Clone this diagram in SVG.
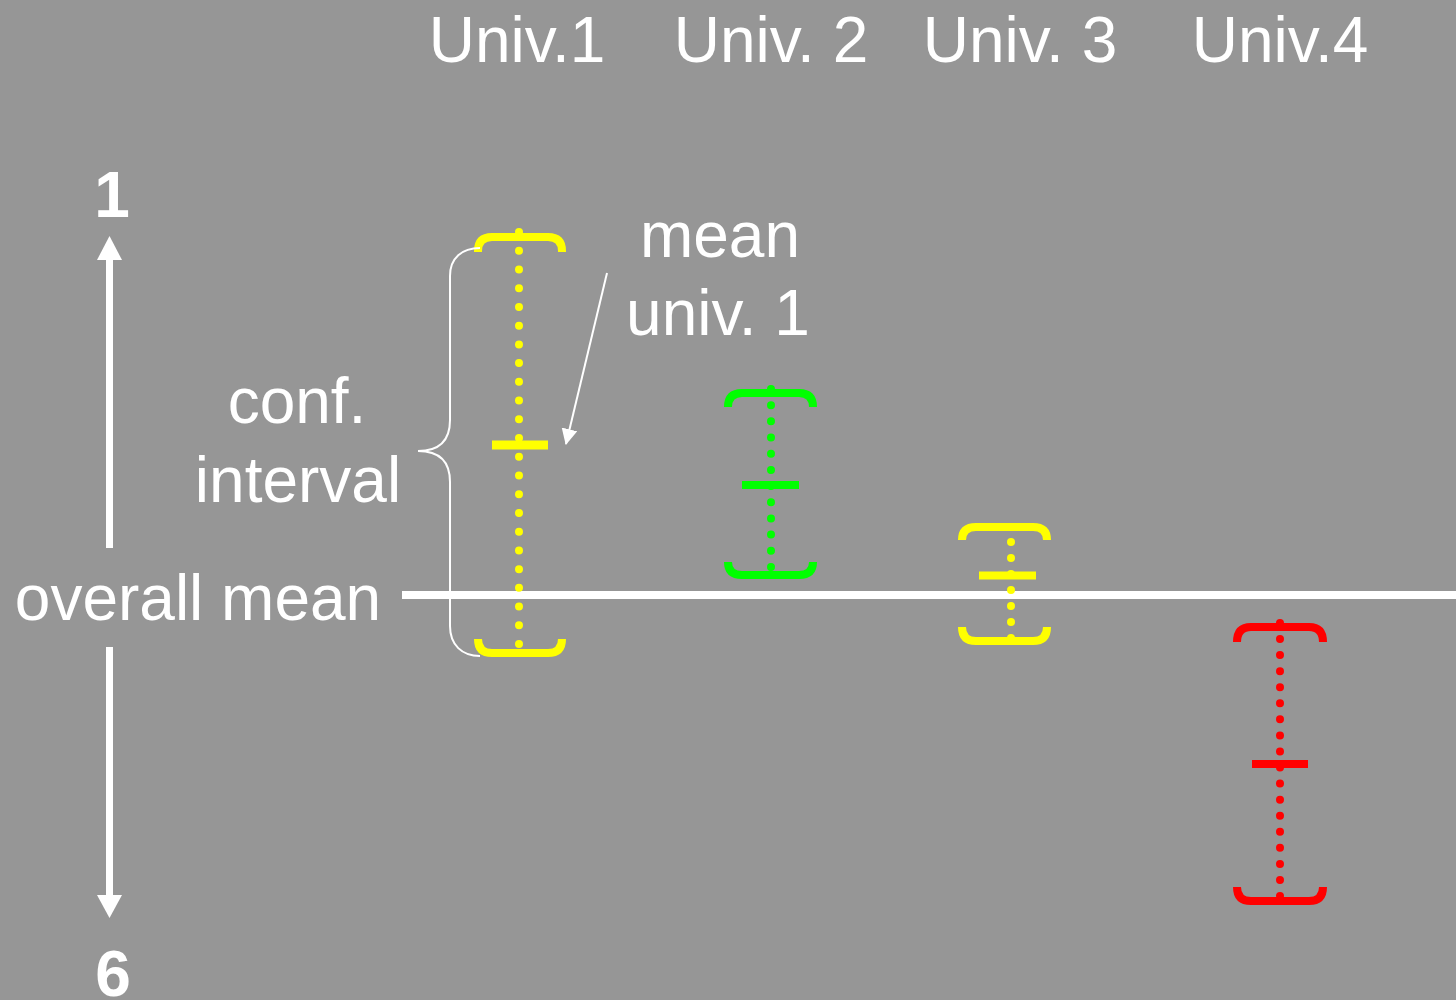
<svg xmlns="http://www.w3.org/2000/svg" width="1456" height="1000" viewBox="0 0 1456 1000">
<defs>
<style>
text{font-family:"Liberation Sans",Arial,sans-serif;fill:#fff;font-size:64px;text-anchor:middle}
.bold{font-weight:bold}
.br{fill:none;stroke-width:8}
.dots{stroke-width:8;stroke-linecap:round}
.y{stroke:#ffff00}.g{stroke:#00ff00}.r{stroke:#ff0000}
.yf{fill:#ffff00}.gf{fill:#00ff00}.rf{fill:#ff0000}
.wl{stroke:#fff;fill:none}
</style>
<marker id="ah" viewBox="0 0 16 16" refX="15" refY="8" markerWidth="16" markerHeight="16" markerUnits="userSpaceOnUse" orient="auto">
<path d="M0,0 L16,8 L0,16 Z" fill="#fff"/>
</marker>
</defs>
<rect width="1456" height="1000" fill="#969696"/>

<g id="headers">
<text x="517" y="62">Univ.1</text>
<text x="771" y="62">Univ. 2</text>
<text x="1020" y="62">Univ. 3</text>
<text x="1280" y="62">Univ.4</text>
</g>

<g id="axis">
<text class="bold" x="112" y="217">1</text>
<text class="bold" x="113" y="996">6</text>
<text x="198" y="620">overall mean</text>
</g>

<g id="overall-mean-line">
<line x1="402" y1="595" x2="1456" y2="595" stroke="#fff" stroke-width="8"/>
</g>

<g id="univ1">
<path class="br y" d="M478,252 V251 Q478,237 492,237 H548 Q562,237 562,251 V252"/>
<path class="br y" d="M478,639 Q478,653 492,653 H548 Q562,653 562,639"/>
<line class="dots y" x1="519" y1="232" x2="519" y2="645" stroke-width="9" stroke-dasharray="0 18.73"/>
<rect class="yf" x="492" y="440.5" width="56" height="9"/>
</g>

<g id="univ2">
<path class="br g" d="M728,407 Q728,393 742,393 H799 Q813,393 813,407"/>
<path class="br g" d="M728,562 Q728,575 742,575 H799 Q813,575 813,562"/>
<line class="dots g" x1="771" y1="389" x2="771" y2="567" stroke-width="8" stroke-dasharray="0 16.18"/>
<rect class="gf" x="742" y="481" width="57" height="8"/>
</g>

<g id="univ3">
<path class="br y" d="M962,540 Q962,527 976,527 H1033 Q1047,527 1047,540"/>
<path class="br y" d="M962,627 Q962,641 976,641 H1033 Q1047,641 1047,627"/>
<line class="dots y" x1="1011" y1="542" x2="1011" y2="639" stroke-width="8" stroke-dasharray="0 16"/>
<rect class="yf" x="979" y="571.5" width="57" height="8"/>
</g>

<g id="univ4">
<path class="br r" d="M1237,642 Q1237,627 1251,627 H1309 Q1323,627 1323,642"/>
<path class="br r" d="M1237,887 Q1237,901 1251,901 H1309 Q1323,901 1323,887"/>
<line class="dots r" x1="1280" y1="623" x2="1280" y2="897" stroke-width="8" stroke-dasharray="0 16.06"/>
<rect class="rf" x="1252" y="760" width="56" height="8"/>
</g>

<g id="conf-interval">
<path class="wl" stroke-width="2" d="M480,248 C462,248 450,258 450,276 V420 C450,440 440,451 418,451 C440,451 450,462 450,482 V626 C450,645 462,656 480,656"/>
<text x="297" y="423">conf.</text>
<text x="298" y="502">interval</text>
</g>

<g id="mean-univ1">
<text x="720" y="257">mean</text>
<text x="718" y="335">univ. 1</text>
</g>

<g id="connectors">
<line x1="109.5" y1="548" x2="109.5" y2="258" stroke="#fff" stroke-width="7"/>
<polygon points="109.5,236 97,260 122,260" fill="#fff"/>
<line x1="109.5" y1="647" x2="109.5" y2="897" stroke="#fff" stroke-width="7"/>
<polygon points="97,895 122,895 109.5,918" fill="#fff"/>
<line x1="607" y1="273" x2="566" y2="444" stroke="#fff" stroke-width="2" marker-end="url(#ah)"/>
</g>
</svg>
